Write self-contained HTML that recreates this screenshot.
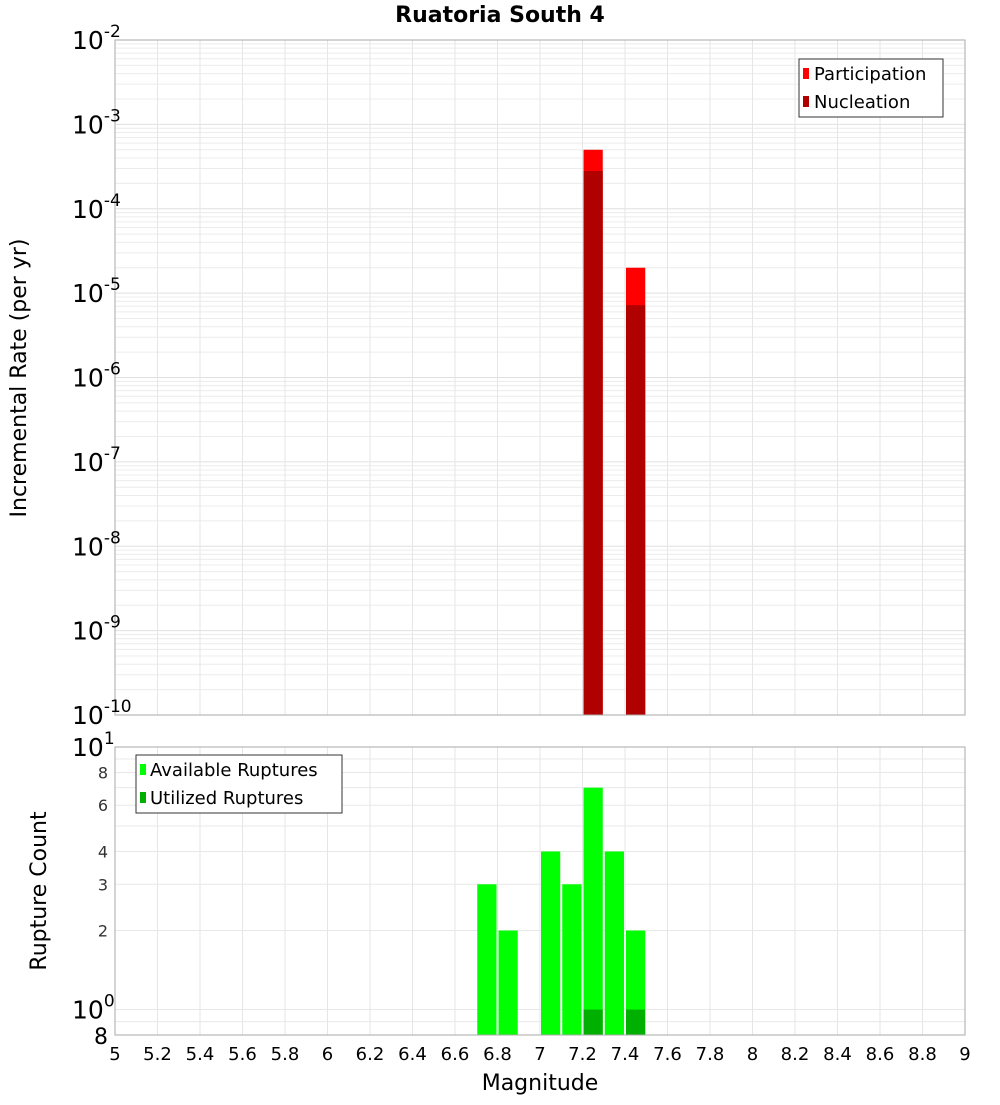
<!DOCTYPE html>
<html><head><meta charset="utf-8"><style>
body{margin:0;background:#fff;font-family:"Liberation Sans","DejaVu Sans",sans-serif}
svg text{font-family:"DejaVu Sans","Liberation Sans",sans-serif}
</style></head><body>
<svg id="c" width="1000" height="1100" xmlns="http://www.w3.org/2000/svg">
<text x="500" y="22" text-anchor="middle" font-size="22" font-weight="bold">Ruatoria South 4</text>
<g id="gtop"></g><g id="gbot"></g>
<text x="540" y="1090" text-anchor="middle" font-size="22">Magnitude</text>
<text transform="translate(26,378) rotate(-90)" text-anchor="middle" font-size="22">Incremental Rate (per yr)</text>
<text transform="translate(46,891) rotate(-90)" text-anchor="middle" font-size="22">Rupture Count</text>
</svg>
<script>
const mags=[6.75,6.85,6.95,7.05,7.15,7.25,7.35,7.45];
const participation=[0,0,0,0,0,5.0e-4,0,2.0e-5];
const nucleation=[0,0,0,0,0,2.8e-4,0,7.2e-6];
const available=[3,2,0,4,3,7,4,2];
const utilized=[0,0,0,0,0,1,0,1];
const xTicks=[5,5.2,5.4,5.6,5.8,6,6.2,6.4,6.6,6.8,7,7.2,7.4,7.6,7.8,8,8.2,8.4,8.6,8.8,9];
const topExps=[-2,-3,-4,-5,-6,-7,-8,-9,-10];
const botTicks=[8,6,4,3,2];

const NS="http://www.w3.org/2000/svg";
const X0=115,X1=965,T0=40,T1=715,B0=747,B1=1035;
const xs=m=>X0+(m-5)/4*(X1-X0);
const yt=v=>T0+(-2-Math.log10(v))/8*(T1-T0);
const bMin=Math.log10(0.8),bMax=1;
const yb=v=>B1-(Math.log10(v)-bMin)/(bMax-bMin)*(B1-B0);
function mk(p,t,a){const e=document.createElementNS(NS,t);for(const k in a)e.setAttribute(k,a[k]);p.appendChild(e);return e;}
const gTop=document.getElementById('gtop'),gBot=document.getElementById('gbot');

for(let e=-10;e<-2;e++)for(let k=1;k<10;k++){const y=yt(k*Math.pow(10,e));
 const l=mk(gTop,'line',{x1:X0,x2:X1,y1:y,y2:y,stroke:k==1?'#e0e0e0':'#ececec','stroke-width':1});
 
 }
xTicks.forEach(m=>{const l=mk(gTop,'line',{x1:xs(m),x2:xs(m),y1:T0,y2:T1,stroke:'#e6e6e6'});
 
 });
const bw=(X1-X0)/40;
mags.forEach((m,i)=>{
 if(participation[i]>0){const r=mk(gTop,'rect',{x:xs(m)-bw/2+1,width:bw-2,y:yt(participation[i]),height:T1-yt(participation[i]),fill:'#ff0000'});
  
  }
 if(nucleation[i]>0){const r=mk(gTop,'rect',{x:xs(m)-bw/2+1,width:bw-2,y:yt(nucleation[i]),height:T1-yt(nucleation[i]),fill:'#b00000'});
  
  }
});
const tf=mk(gTop,'rect',{x:X0,y:T0,width:X1-X0,height:T1-T0,fill:'none',stroke:'#aaa'});


topExps.forEach(e=>{const y=yt(Math.pow(10,e));const t=mk(gTop,'text',{x:72,y:y+9,'font-size':25});
 t.innerHTML='10<tspan dy="-12" font-size="17">'+e+'</tspan>';
 
 });
const lg=mk(gTop,'g',{});


mk(lg,'rect',{x:799,y:59,width:144,height:58,fill:'#fff',stroke:'#333'});
mk(lg,'rect',{x:803,y:68,width:6,height:11,fill:'#ff0000'});
mk(lg,'text',{x:814,y:80,'font-size':18}).textContent='Participation';
mk(lg,'rect',{x:803,y:96,width:6,height:11,fill:'#b00000'});
mk(lg,'text',{x:814,y:108,'font-size':18}).textContent='Nucleation';

const gridVals=[0.8,0.9,1,2,3,4,5,6,7,8,9,10];
gridVals.forEach(v=>{const y=yb(v);
 const l=mk(gBot,'line',{x1:X0,x2:X1,y1:y,y2:y,stroke:'#e8e8e8'});
 
 });
xTicks.forEach(m=>{const l=mk(gBot,'line',{x1:xs(m),x2:xs(m),y1:B0,y2:B1,stroke:'#e6e6e6'});
 
 });
mags.forEach((m,i)=>{
 if(available[i]>0){const r=mk(gBot,'rect',{x:xs(m)-bw/2+1,width:bw-2,y:yb(available[i]),height:B1-yb(available[i]),fill:'#00ff00'});
  
  }
 if(utilized[i]>0){const r=mk(gBot,'rect',{x:xs(m)-bw/2+1,width:bw-2,y:yb(utilized[i]),height:B1-yb(utilized[i]),fill:'#00b000'});
  
  }
});
const bf=mk(gBot,'rect',{x:X0,y:B0,width:X1-X0,height:B1-B0,fill:'none',stroke:'#aaa'});


botTicks.forEach(v=>{const t=mk(gBot,'text',{x:108,y:yb(v)+6,'text-anchor':'end','font-size':16,fill:'#333'});
 t.textContent=v;
 
 });
[[1,'0'],[10,'1']].forEach(([v,e])=>{const t=mk(gBot,'text',{x:72,y:yb(v)+9,'font-size':25});
 t.innerHTML='10<tspan dy="-12" font-size="17">'+e+'</tspan>';
 
 });
const t8=mk(gBot,'text',{x:108,y:B1+9,'text-anchor':'end','font-size':22});
t8.textContent='8';


xTicks.forEach(m=>{const t=mk(gBot,'text',{x:xs(m),y:1060,'text-anchor':'middle','font-size':18});
 t.textContent=String(m);
 
 });
const bl=mk(gBot,'g',{});


mk(bl,'rect',{x:136,y:755,width:206,height:58,fill:'#fff',stroke:'#333'});
mk(bl,'rect',{x:140,y:764,width:6,height:11,fill:'#00ff00'});
mk(bl,'text',{x:150,y:776,'font-size':18}).textContent='Available Ruptures';
mk(bl,'rect',{x:140,y:792,width:6,height:11,fill:'#00b000'});
mk(bl,'text',{x:150,y:804,'font-size':18}).textContent='Utilized Ruptures';
</script>
</body></html>
